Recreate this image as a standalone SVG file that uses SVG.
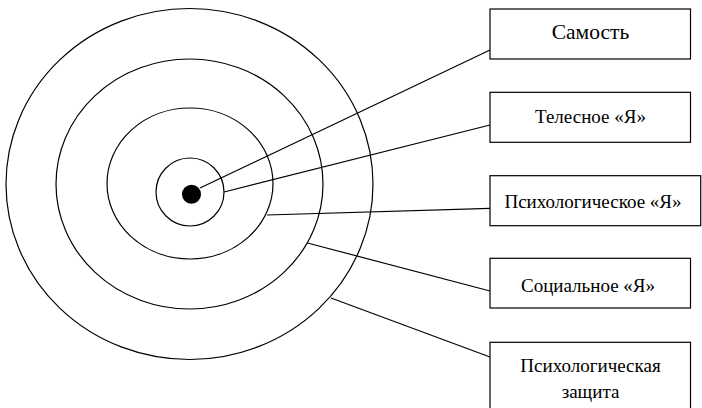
<svg xmlns="http://www.w3.org/2000/svg" width="702" height="408" viewBox="0 0 702 408">
<style>
.c{fill:none;stroke:#000;stroke-width:1.2}
.b{fill:#fff;stroke:#000;stroke-width:1.2}
.l{stroke:#000;stroke-width:1.2;fill:none}
.t{font-family:'Liberation Serif','Times New Roman',serif;fill:#000;text-anchor:middle}
</style>
<rect width="702" height="408" fill="#fff"/>
<g id="rings">
<ellipse class="c" cx="189.5" cy="184" rx="183.5" ry="175.5"/>
<ellipse class="c" cx="189.5" cy="184" rx="133.5" ry="125"/>
<ellipse class="c" cx="190" cy="183.5" rx="83" ry="75.5"/>
<circle class="c" cx="190" cy="192" r="34"/>
<circle cx="191.5" cy="194.3" r="9.5" fill="#000"/>
</g>
<g id="connectors">
<line class="l" x1="200" y1="188" x2="490" y2="50"/>
<line class="l" x1="224" y1="192" x2="490" y2="125"/>
<line class="l" x1="267" y1="215" x2="490" y2="208.3"/>
<line class="l" x1="307.5" y1="243" x2="490" y2="291"/>
<line class="l" x1="331" y1="298" x2="490" y2="357"/>
</g>
<g id="n1"><rect class="b" x="490" y="9" width="200.5" height="50"/><text class="t" x="590.5" y="39" font-size="21.5">Самость</text></g>
<g id="n2"><rect class="b" x="490" y="92.3" width="200.5" height="50"/><text class="t" x="590.5" y="123.3" font-size="19">Телесное «Я»</text></g>
<g id="n3"><rect class="b" x="490" y="175.7" width="210.7" height="50"/><text class="t" x="593" y="208.3" font-size="19">Психологическое «Я»</text></g>
<g id="n4"><rect class="b" x="490" y="258.3" width="200.5" height="49.7"/><text class="t" x="588" y="291.7" font-size="19">Социальное «Я»</text></g>
<g id="n5"><rect class="b" x="490" y="342.3" width="200.5" height="80"/><text class="t" x="590.5" y="371.7" font-size="19">Психологическая</text><text class="t" x="590.5" y="398.3" font-size="19">защита</text></g>
</svg>
